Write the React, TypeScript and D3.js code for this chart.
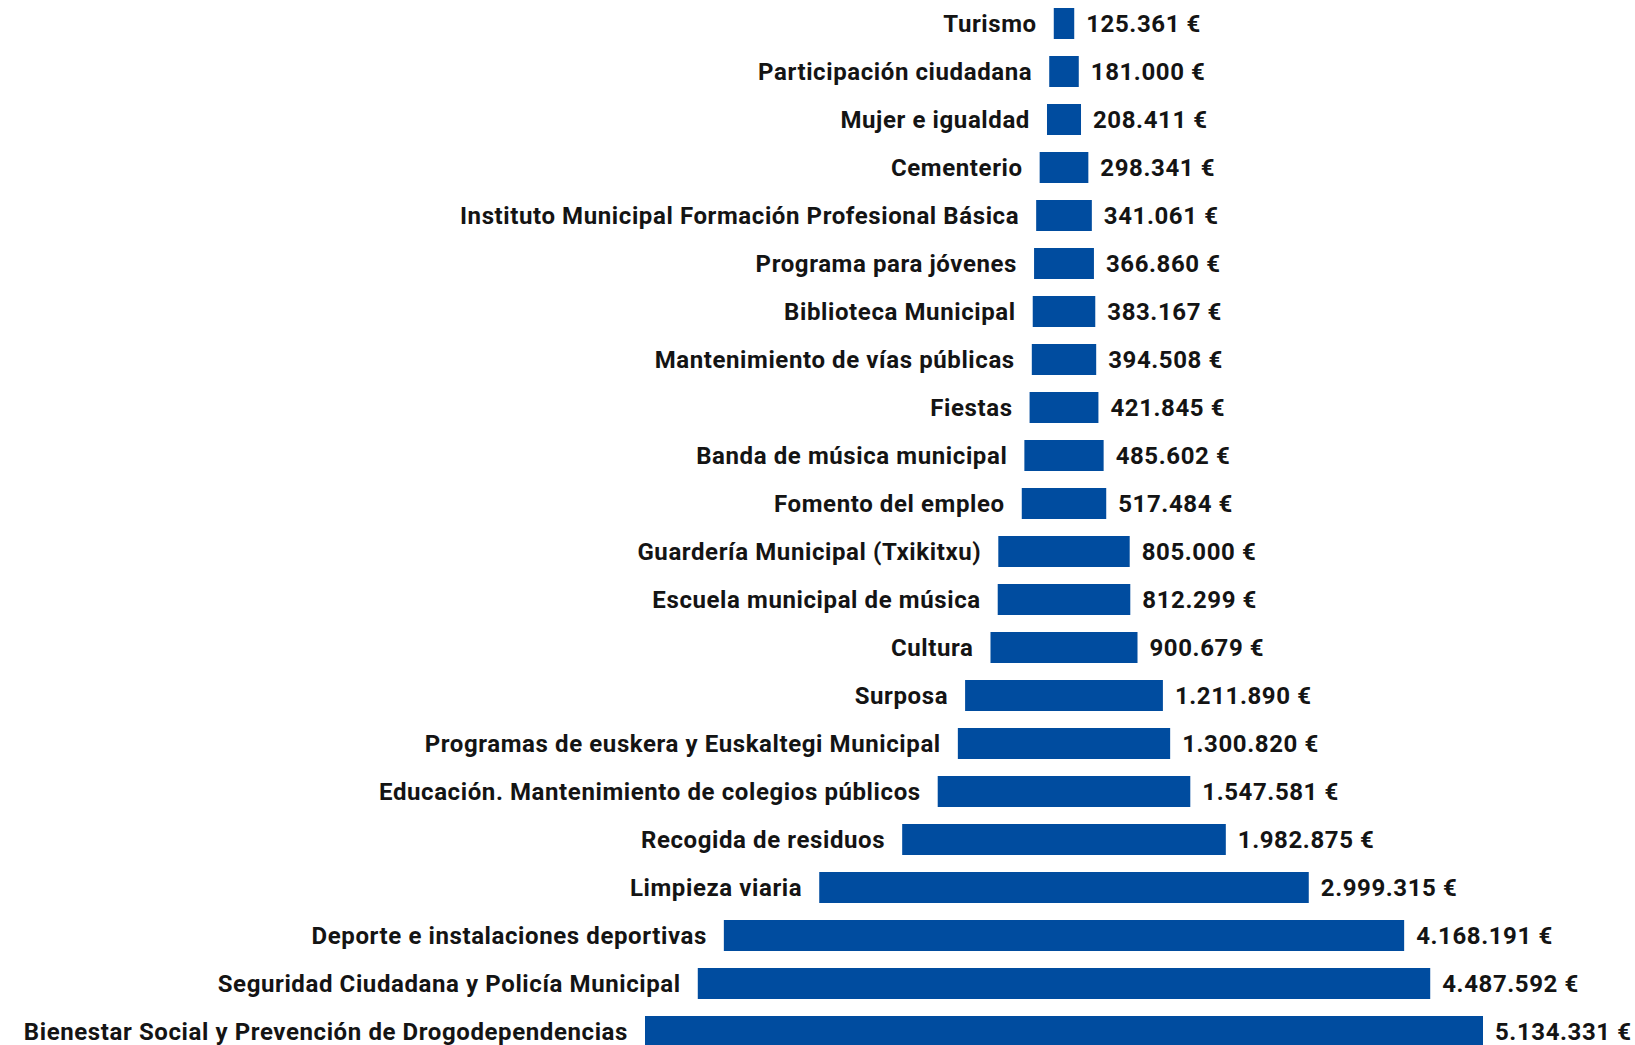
import React from "react";
import * as d3 from "d3";

const categories = [
  "Turismo",
  "Participación ciudadana",
  "Mujer e igualdad",
  "Cementerio",
  "Instituto Municipal Formación Profesional Básica",
  "Programa para jóvenes",
  "Biblioteca Municipal",
  "Mantenimiento de vías públicas",
  "Fiestas",
  "Banda de música municipal",
  "Fomento del empleo",
  "Guardería Municipal (Txikitxu)",
  "Escuela municipal de música",
  "Cultura",
  "Surposa",
  "Programas de euskera y Euskaltegi Municipal",
  "Educación. Mantenimiento de colegios públicos",
  "Recogida de residuos",
  "Limpieza viaria",
  "Deporte e instalaciones deportivas",
  "Seguridad Ciudadana y Policía Municipal",
  "Bienestar Social y Prevención de Drogodependencias",
];

const values = [
  125361, 181000, 208411, 298341, 341061, 366860, 383167, 394508, 421845,
  485602, 517484, 805000, 812299, 900679, 1211890, 1300820, 1547581, 1982875,
  2999315, 4168191, 4487592, 5134331,
];

const W = 1635;
const H = 1045;
const CX = 1064;
const TOP = 23.5 - 24;
const PITCH = 48;

const fmt = (v: number) =>
  d3.format(",")(v).replace(/,/g, ".") + " €";

export default function App() {
  const y = d3
    .scaleBand<string>()
    .domain(categories)
    .range([TOP, TOP + PITCH * categories.length])
    .paddingInner(17 / 48)
    .paddingOuter(17 / 96);
  const w = d3
    .scaleLinear()
    .domain([0, d3.max(values) as number])
    .range([0, 838]);

  const font = "Roboto, 'DejaVu Sans', sans-serif";
  const textProps = {
    fontFamily: font,
    fontWeight: 700,
    fontSize: 24,
    letterSpacing: 0.6,
    fill: "#141414",
  };
  return (
    <svg
      width={W}
      height={H}
      style={{ position: "absolute", left: 0, top: 0, display: "block" }}
    >
      <rect width={W} height={H} fill="#ffffff" />
      {categories.map((c, i) => {
        const bw = w(values[i]);
        const x0 = CX - bw / 2;
        const yy = y(c) as number;
        const cy = yy + y.bandwidth() / 2;
        return (
          <g key={c}>
            <rect x={x0} y={yy} width={bw} height={y.bandwidth()} fill="#004c9f" />
            <text x={x0 - 17} y={cy} dy="0.36em" textAnchor="end" {...textProps}>
              {c}
            </text>
            <text x={x0 + bw + 12} y={cy} dy="0.36em" textAnchor="start" {...textProps}>
              {fmt(values[i])}
            </text>
          </g>
        );
      })}
    </svg>
  );
}
